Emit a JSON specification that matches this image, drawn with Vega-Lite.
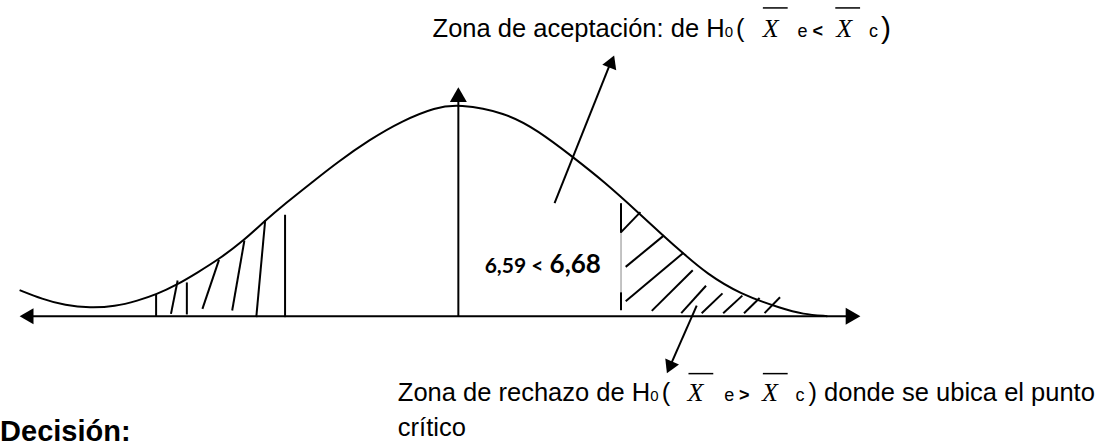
{
  "$schema": "https://vega.github.io/schema/vega-lite/v6.json",
  "width": 1116,
  "height": 447,
  "autosize": {"type": "fit", "contains": "padding"},
  "padding": 0,
  "background": "white",
  "config": {"view": {"stroke": null}},
  "datasets": {
    "curve": [
      {"x": -4.423, "y": 0.263}, {"x": -4.197, "y": 0.173}, {"x": -3.963, "y": 0.107},
      {"x": -3.713, "y": 0.083}, {"x": -3.463, "y": 0.097}, {"x": -3.23, "y": 0.157},
      {"x": -3.047, "y": 0.217}, {"x": -2.83, "y": 0.32}, {"x": -2.63, "y": 0.44},
      {"x": -2.413, "y": 0.575}, {"x": -2.163, "y": 0.763}, {"x": -1.947, "y": 0.964},
      {"x": -1.747, "y": 1.135}, {"x": -1.463, "y": 1.36}, {"x": -1.23, "y": 1.545},
      {"x": -0.897, "y": 1.78}, {"x": -0.563, "y": 1.973}, {"x": -0.23, "y": 2.107},
      {"x": 0.003, "y": 2.14}, {"x": 0.47, "y": 2.057}, {"x": 0.803, "y": 1.873},
      {"x": 1.153, "y": 1.607}, {"x": 1.47, "y": 1.357}, {"x": 1.82, "y": 1.04},
      {"x": 2.07, "y": 0.807}, {"x": 2.27, "y": 0.63}, {"x": 2.503, "y": 0.43},
      {"x": 2.837, "y": 0.223}, {"x": 3.27, "y": 0.073}, {"x": 3.47, "y": 0.02},
      {"x": 3.72, "y": 0.0}
    ],
    "segments": [
      {"x": -4.35, "y": 0, "x2": 3.98, "y2": 0, "kind": "thick"},
      {"x": 0, "y": 0, "x2": 0, "y2": 2.19, "kind": "thick"},
      {"x": 0.97, "y": 1.14, "x2": 1.54, "y2": 2.57, "kind": "thick"},
      {"x": 2.403, "y": 0.107, "x2": 2.129, "y2": -0.517, "kind": "thick"},
      {"x": -3.047, "y": 0.217, "x2": -3.047, "y2": 0, "kind": "thick"},
      {"x": -2.83, "y": 0.36, "x2": -2.897, "y2": 0.023, "kind": "thick"},
      {"x": -2.737, "y": 0.34, "x2": -2.737, "y2": 0.017, "kind": "thick"},
      {"x": -2.413, "y": 0.568, "x2": -2.58, "y2": 0.073, "kind": "thick"},
      {"x": -2.157, "y": 0.763, "x2": -2.28, "y2": 0.057, "kind": "thick"},
      {"x": -1.947, "y": 0.97, "x2": -2.037, "y2": -0.01, "kind": "thick"},
      {"x": -1.747, "y": 1.023, "x2": -1.747, "y2": -0.01, "kind": "thick"},
      {"x": 1.64, "y": 1.14, "x2": 1.64, "y2": 0.84, "kind": "thick"},
      {"x": 1.64, "y": 0.24, "x2": 1.64, "y2": 0.06, "kind": "thick"},
      {"x": 1.64, "y": 0.84, "x2": 1.64, "y2": 0.06, "kind": "thin"},
      {"x": 1.643, "y": 0.85, "x2": 1.835, "y2": 1.05, "kind": "thick"},
      {"x": 1.687, "y": 0.497, "x2": 2.073, "y2": 0.815, "kind": "thick"},
      {"x": 1.687, "y": 0.15, "x2": 2.27, "y2": 0.64, "kind": "thick"},
      {"x": 1.95, "y": 0.053, "x2": 2.363, "y2": 0.463, "kind": "thick"},
      {"x": 2.247, "y": 0.03, "x2": 2.497, "y2": 0.307, "kind": "thick"},
      {"x": 2.453, "y": 0.03, "x2": 2.663, "y2": 0.23, "kind": "thick"},
      {"x": 2.67, "y": 0.03, "x2": 2.863, "y2": 0.207, "kind": "thick"},
      {"x": 2.88, "y": 0.03, "x2": 3.037, "y2": 0.183, "kind": "thick"},
      {"x": 3.087, "y": 0.03, "x2": 3.243, "y2": 0.19, "kind": "thick"},
      {"x": 3.07, "y": 3.11, "x2": 3.32, "y2": 3.11, "kind": "bar"},
      {"x": 3.80, "y": 3.11, "x2": 4.05, "y2": 3.11, "kind": "bar"},
      {"x": 2.32, "y": -0.58, "x2": 2.57, "y2": -0.58, "kind": "bar"},
      {"x": 3.07, "y": -0.58, "x2": 3.32, "y2": -0.58, "kind": "bar"}
    ],
    "heads": [
      {"name": "left", "x": -4.353, "y": 0},
      {"name": "right", "x": 3.979, "y": 0},
      {"name": "up", "x": 0, "y": 2.236},
      {"name": "accept", "x": 1.546, "y": 2.57},
      {"name": "reject", "x": 2.129, "y": -0.517}
    ],
    "labels": [
      {"text": "Zona de aceptación: de H", "x": -0.26, "y": 2.82, "role": "main"},
      {"text": "0", "x": 2.685, "y": 2.82, "role": "sub"},
      {"text": "(", "x": 2.80, "y": 2.82, "role": "main"},
      {"text": "X", "x": 3.07, "y": 2.82, "role": "var"},
      {"text": "e", "x": 3.42, "y": 2.82, "role": "small"},
      {"text": "<", "x": 3.57, "y": 2.82, "role": "op"},
      {"text": "X", "x": 3.81, "y": 2.82, "role": "var"},
      {"text": "c", "x": 4.14, "y": 2.82, "role": "small"},
      {"text": ")", "x": 4.26, "y": 2.81, "role": "paren"},
      {"text": "Zona de rechazo de H", "x": -0.61, "y": -0.86, "role": "main"},
      {"text": "0", "x": 1.935, "y": -0.86, "role": "sub"},
      {"text": "(", "x": 2.05, "y": -0.86, "role": "main"},
      {"text": "X", "x": 2.31, "y": -0.86, "role": "var"},
      {"text": "e", "x": 2.68, "y": -0.86, "role": "small"},
      {"text": ">", "x": 2.83, "y": -0.86, "role": "op"},
      {"text": "X", "x": 3.06, "y": -0.86, "role": "var"},
      {"text": "c", "x": 3.40, "y": -0.86, "role": "small"},
      {"text": ") donde se ubica el punto", "x": 3.53, "y": -0.86, "role": "main"},
      {"text": "crítico", "x": -0.61, "y": -1.21, "role": "main"},
      {"text": "Decisión:", "x": -4.62, "y": -1.26, "role": "title"},
      {"text": "6,59 <", "x": 0.265, "y": 0.44, "role": "num"},
      {"text": "6,68", "x": 0.92, "y": 0.44, "role": "numbig"}
    ]
  },
  "encoding": {
    "x": {"field": "x", "type": "quantitative", "scale": {"domain": [-4.53, 6.63], "nice": false, "zero": false}, "axis": null},
    "y": {"field": "y", "type": "quantitative", "scale": {"domain": [-1.28, 3.19], "nice": false, "zero": false}, "axis": null}
  },
  "layer": [
    {
      "data": {"name": "curve"},
      "mark": {"type": "line", "interpolate": "basis", "color": "black", "strokeWidth": 2}
    },
    {
      "data": {"name": "segments"},
      "transform": [{"filter": "datum.kind === 'thin'"}],
      "mark": {"type": "rule", "color": "#888888", "strokeWidth": 1},
      "encoding": {"x2": {"field": "x2"}, "y2": {"field": "y2"}}
    },
    {
      "data": {"name": "segments"},
      "transform": [{"filter": "datum.kind === 'thick'"}],
      "mark": {"type": "rule", "color": "black", "strokeWidth": 2},
      "encoding": {"x2": {"field": "x2"}, "y2": {"field": "y2"}}
    },
    {
      "data": {"name": "segments"},
      "transform": [{"filter": "datum.kind === 'bar'"}],
      "mark": {"type": "rule", "color": "black", "strokeWidth": 1.5},
      "encoding": {"x2": {"field": "x2"}, "y2": {"field": "y2"}}
    },
    {
      "data": {"name": "heads"},
      "transform": [{"filter": "datum.name === 'left'"}],
      "mark": {"type": "point", "shape": "triangle-left", "filled": true, "color": "black", "opacity": 1, "size": 256, "strokeWidth": 0}
    },
    {
      "data": {"name": "heads"},
      "transform": [{"filter": "datum.name === 'right'"}],
      "mark": {"type": "point", "shape": "triangle-right", "filled": true, "color": "black", "opacity": 1, "size": 289, "strokeWidth": 0}
    },
    {
      "data": {"name": "heads"},
      "transform": [{"filter": "datum.name === 'up'"}],
      "mark": {"type": "point", "shape": "triangle-up", "filled": true, "color": "black", "opacity": 1, "size": 289, "strokeWidth": 0}
    },
    {
      "data": {"name": "heads"},
      "transform": [{"filter": "datum.name === 'accept'"}],
      "mark": {"type": "point", "shape": "triangle-up", "angle": 22, "filled": true, "color": "black", "opacity": 1, "size": 225, "strokeWidth": 0}
    },
    {
      "data": {"name": "heads"},
      "transform": [{"filter": "datum.name === 'reject'"}],
      "mark": {"type": "point", "shape": "triangle-up", "angle": 203.7, "filled": true, "color": "black", "opacity": 1, "size": 225, "strokeWidth": 0}
    },
    {
      "data": {"name": "labels"},
      "transform": [{"filter": "datum.role === 'main'"}],
      "mark": {"type": "text", "align": "left", "baseline": "alphabetic", "font": "Liberation Sans", "fontSize": 25.5, "color": "black"},
      "encoding": {"text": {"field": "text"}}
    },
    {
      "data": {"name": "labels"},
      "transform": [{"filter": "datum.role === 'sub'"}],
      "mark": {"type": "text", "align": "left", "baseline": "alphabetic", "font": "Liberation Sans", "fontSize": 15, "color": "black"},
      "encoding": {"text": {"field": "text"}}
    },
    {
      "data": {"name": "labels"},
      "transform": [{"filter": "datum.role === 'var'"}],
      "mark": {"type": "text", "align": "left", "baseline": "alphabetic", "font": "Liberation Serif", "fontStyle": "italic", "fontSize": 26, "color": "black"},
      "encoding": {"text": {"field": "text"}}
    },
    {
      "data": {"name": "labels"},
      "transform": [{"filter": "datum.role === 'small'"}],
      "mark": {"type": "text", "align": "left", "baseline": "alphabetic", "font": "Liberation Sans", "fontSize": 18, "color": "black"},
      "encoding": {"text": {"field": "text"}}
    },
    {
      "data": {"name": "labels"},
      "transform": [{"filter": "datum.role === 'op'"}],
      "mark": {"type": "text", "align": "left", "baseline": "alphabetic", "font": "Liberation Sans", "fontWeight": "bold", "fontSize": 18, "color": "black"},
      "encoding": {"text": {"field": "text"}}
    },
    {
      "data": {"name": "labels"},
      "transform": [{"filter": "datum.role === 'paren'"}],
      "mark": {"type": "text", "align": "left", "baseline": "alphabetic", "font": "Liberation Sans", "fontSize": 30, "color": "black"},
      "encoding": {"text": {"field": "text"}}
    },
    {
      "data": {"name": "labels"},
      "transform": [{"filter": "datum.role === 'title'"}],
      "mark": {"type": "text", "align": "left", "baseline": "alphabetic", "font": "Liberation Sans", "fontWeight": "bold", "fontSize": 29, "color": "black"},
      "encoding": {"text": {"field": "text"}}
    },
    {
      "data": {"name": "labels"},
      "transform": [{"filter": "datum.role === 'num'"}],
      "mark": {"type": "text", "align": "left", "baseline": "alphabetic", "font": "Lato", "fontWeight": "bold", "fontSize": 21, "color": "black"},
      "encoding": {"text": {"field": "text"}}
    },
    {
      "data": {"name": "labels"},
      "transform": [{"filter": "datum.role === 'numbig'"}],
      "mark": {"type": "text", "align": "left", "baseline": "alphabetic", "font": "Lato", "fontWeight": "bold", "fontSize": 26, "color": "black"},
      "encoding": {"text": {"field": "text"}}
    }
  ]
}
